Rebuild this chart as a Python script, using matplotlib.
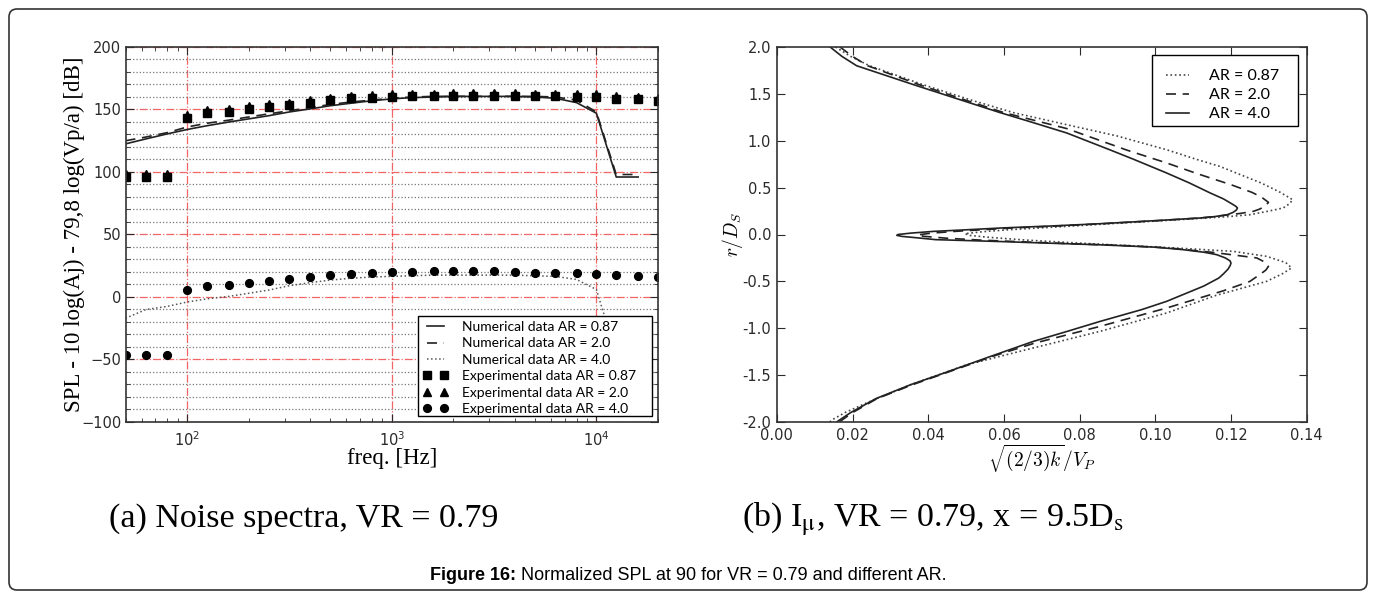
import matplotlib
matplotlib.use('Agg')
import matplotlib.pyplot as plt
from matplotlib.ticker import MultipleLocator, LogLocator, NullFormatter, FormatStrFormatter
from matplotlib.patches import FancyBboxPatch, Rectangle
from matplotlib.transforms import IdentityTransform
from matplotlib.font_manager import FontProperties

# ---------------- data: (a) noise spectra ----------------
freq_exp = [50, 63, 80, 100, 125, 160, 200, 250, 315, 400, 500, 630, 800, 1000,
            1250, 1600, 2000, 2500, 3150, 4000, 5000, 6300, 8000, 10000, 12500, 16000, 20000]
exp_ar087 = [96, 96, 96, 143.5, 147.5, 148, 150.5, 152, 153.5, 155.5, 157.5, 159, 159.5, 160,
             160.5, 160.5, 161, 161, 161, 161, 160.5, 160.5, 160, 160, 158.5, 158, 157]
exp_ar20 = [98, 98, 98, 145.5, 149.5, 150, 152.5, 154, 155.5, 157.5, 159.5, 161, 161.5, 162,
            162.5, 162.5, 163, 163, 163, 163, 162.5, 162.5, 162, 162, 160.5, 160, 159]
exp_ar40 = [-46.5, -46.5, -46.5, 5.5, 8.5, 9.5, 11.5, 13, 14.5, 16, 17.5, 18.5, 19.5, 20,
            20, 20.5, 20.5, 20.5, 20.5, 20, 19.5, 19.5, 19, 18.5, 17.5, 17, 16]

freq_num = [50, 63, 80, 100, 125, 160, 200, 250, 315, 400, 500, 630, 800, 1000,
            1250, 1600, 2000, 2500, 3150, 4000, 5000, 6300, 8000, 10000, 12500, 16000]
num_ar087 = [122.5, 126.5, 130.5, 134, 137, 140, 142.5, 145, 148, 150.5, 153, 155, 157, 158.5,
             159.5, 160, 160.5, 160.5, 160.5, 160.5, 160, 159, 155.5, 147, 96, 96]
num_ar20 = [125, 128, 131.5, 136, 139, 141.5, 144, 146.5, 149, 151.5, 154, 156, 157.5, 159,
            160, 160.5, 160.5, 160.5, 160.5, 160.5, 160.5, 160, 157.5, 148, 98, 98]
num_ar40 = [-17, -10, -7.5, -4, -1.5, 0.5, 3, 5.5, 9, 11.5, 13.5, 15, 16, 16.5,
            17, 17.5, 17.5, 17.5, 17.5, 17.5, 17, 16.5, 14, 6, -46, -46]

# ---------------- data: (b) turbulence intensity profiles ----------------
r_ar40 = [2.0, 1.9, 1.8, 1.6, 1.438, 1.3, 1.2, 1.083, 0.9, 0.8, 0.656, 0.55, 0.443, 0.38,
          0.318, 0.30, 0.283, 0.26, 0.235, 0.211, 0.19, 0.176, 0.15, 0.115, 0.09, 0.069, 0.05,
          0.033, 0.015, 0.0, -0.009, -0.02, -0.035, -0.055, -0.075, -0.09, -0.11, -0.135, -0.162,
          -0.19, -0.215, -0.25, -0.28, -0.304, -0.33, -0.37, -0.42, -0.464, -0.55, -0.713, -0.8,
          -0.927, -1.03, -1.14, -1.3, -1.495, -1.6, -1.75, -1.9, -2.0]
x_ar40 = [0.0141, 0.0172, 0.0211, 0.0360, 0.0484, 0.0590, 0.0672, 0.0766, 0.0882, 0.0944,
          0.1030, 0.1090, 0.1145, 0.1180, 0.1206, 0.1213, 0.1217, 0.1214, 0.1205, 0.1190,
          0.1155, 0.1118, 0.1010, 0.0854, 0.0720, 0.0590, 0.0500, 0.0413, 0.0355, 0.0320,
          0.0317, 0.0330, 0.0370, 0.0420, 0.0590, 0.0700, 0.0854, 0.1000, 0.1074, 0.1130,
          0.1162, 0.1185, 0.1197, 0.1200, 0.1198, 0.1192, 0.1180, 0.1168, 0.1128, 0.1030,
          0.0965, 0.0854, 0.0770, 0.0678, 0.0565, 0.0430, 0.0355, 0.0262, 0.0195, 0.0158]

r_ar20 = [2.0, 1.9, 1.8, 1.6, 1.438, 1.3, 1.13, 0.9, 0.763, 0.65, 0.531, 0.45, 0.40, 0.343,
          0.30, 0.27, 0.247, 0.225, 0.211, 0.19, 0.176, 0.15, 0.115, 0.09, 0.069, 0.05, 0.033,
          0.015, 0.0, -0.01, -0.02, -0.04, -0.06, -0.08, -0.1, -0.12, -0.145, -0.162, -0.19,
          -0.215, -0.25, -0.3, -0.34, -0.38, -0.43, -0.5, -0.6, -0.784, -0.98, -1.16, -1.3,
          -1.5, -1.6, -1.75, -1.9, -2.0]
x_ar20 = [0.0167, 0.0200, 0.0240, 0.0375, 0.0495, 0.0600, 0.0766, 0.0925, 0.1030, 0.1110,
          0.1200, 0.1255, 0.1280, 0.1299, 0.1290, 0.1275, 0.1259, 0.1225, 0.1195, 0.1155,
          0.1118, 0.1015, 0.0860, 0.0735, 0.0620, 0.0540, 0.0470, 0.0410, 0.0380, 0.0372,
          0.0390, 0.0450, 0.0540, 0.0660, 0.0790, 0.0930, 0.1040, 0.1080, 0.1150, 0.1200,
          0.1268, 0.1292, 0.1299, 0.1292, 0.1275, 0.1250, 0.1180, 0.1030, 0.0854, 0.0680,
          0.0570, 0.0430, 0.0360, 0.0265, 0.0200, 0.0165]

r_ar087 = [2.0, 1.9, 1.8, 1.6, 1.438, 1.3, 1.171, 1.05, 0.904, 0.80, 0.727, 0.549, 0.45,
           0.371, 0.33, 0.283, 0.25, 0.211, 0.19, 0.176, 0.15, 0.115, 0.09, 0.069, 0.05, 0.03,
           0.009, -0.01, -0.03, -0.06, -0.09, -0.12, -0.15, -0.18, -0.233, -0.3, -0.357, -0.42,
           -0.5, -0.65, -0.837, -1.033, -1.21, -1.389, -1.5, -1.6, -1.797, -1.9, -1.97, -2.0]
x_ar087 = [0.0155, 0.0195, 0.0245, 0.0385, 0.0510, 0.0625, 0.0766, 0.0900, 0.1030, 0.1110,
           0.1170, 0.1280, 0.1330, 0.1363, 0.1355, 0.1338, 0.1300, 0.1250, 0.1190, 0.1135,
           0.1030, 0.0880, 0.0780, 0.0690, 0.0610, 0.0545, 0.0497, 0.0510, 0.0560, 0.0660,
           0.0790, 0.0940, 0.1080, 0.1206, 0.1294, 0.1345, 0.1360, 0.1335, 0.1294, 0.1160,
           0.1030, 0.0854, 0.0678, 0.0502, 0.0425, 0.0355, 0.0237, 0.0180, 0.0149, 0.0140]

# ---------------- figure ----------------
plt.rcParams['font.family'] = ['DejaVu Sans']
plt.rcParams['mathtext.fontset'] = 'dejavusans'
fig = plt.figure(figsize=(13.76, 5.99), dpi=100)

W, H = 1376.0, 599.0
def axrect(x0, y0, x1, y1):
    return [x0 / W, 1 - y1 / H, (x1 - x0) / W, (y1 - y0) / H]

serif = 'Liberation Serif'
tick_col = '#2a2a2a'

# ---- left panel ----
ax1 = fig.add_axes(axrect(125.5, 47, 658, 422))
ax1.set_xscale('log')
ax1.set_xlim(50, 20000)
ax1.set_ylim(-100, 200)
ax1.yaxis.set_major_locator(MultipleLocator(50))
ax1.yaxis.set_minor_locator(MultipleLocator(10))
ax1.xaxis.set_major_locator(LogLocator(base=10))
ax1.xaxis.set_minor_locator(LogLocator(base=10, subs=range(2, 10)))
ax1.xaxis.set_minor_formatter(NullFormatter())

ax1.grid(which='major', color='#ee3333', linestyle='-.', linewidth=0.9, alpha=0.75)
ax1.grid(which='minor', axis='y', color='#777777', linestyle=':', linewidth=0.9)
ax1.set_axisbelow(True)

ax1.plot(freq_num, num_ar087, '-', color='#222222', lw=1.2, label='Numerical data AR = 0.87')
ax1.plot(freq_num, num_ar20, '--', color='#222222', lw=1.2, dashes=(6, 4), label='Numerical data AR = 2.0')
ax1.plot(freq_num, num_ar40, ':', color='#555555', lw=1.1, label='Numerical data AR = 4.0')
ax1.plot(freq_exp, exp_ar087, 's', color='black', ms=5.6, ls='none', label='Experimental data AR = 0.87')
ax1.plot(freq_exp, exp_ar20, '^', color='black', ms=5.6, ls='none', label='Experimental data AR = 2.0')
ax1.plot(freq_exp, exp_ar40, 'o', color='black', ms=5.6, ls='none', label='Experimental data AR = 4.0')

ax1.tick_params(which='both', direction='in', top=True, right=True, labelsize=10.5, colors=tick_col)
ax1.tick_params(which='major', length=6)
ax1.tick_params(which='minor', length=3)
ax1.tick_params(axis='y', pad=3)
ax1.tick_params(axis='x', pad=6)
ax1.set_xlabel('freq. [Hz]', family=serif, fontsize=16.5, labelpad=-1)
ax1.set_ylabel('SPL - 10 log(Aj) - 79,8 log(Vp/a) [dB]', family=serif, fontsize=16.5, labelpad=-3)
for s in ax1.spines.values():
    s.set_linewidth(1.2)
    s.set_color('#333333')

# legend box (drawn in pixel coordinates) + legend content without its own frame
ax1.add_patch(Rectangle((418, H - 416), 234, 100, transform=IdentityTransform(), facecolor='white',
                        edgecolor='black', lw=1.0, zorder=4.8, clip_on=False))
leg1 = ax1.legend(loc='upper left', bbox_to_anchor=(416 / W, 1 - 314 / H),
                  bbox_transform=fig.transFigure, numpoints=2, handlelength=1.82, handletextpad=1.0,
                  labelspacing=0.32, borderpad=0.0, frameon=False,
                  prop=FontProperties(family='Lato', size=10))
leg1.set_zorder(5)

# ---- right panel ----
ax2 = fig.add_axes(axrect(776.8, 47, 1306.7, 422))
ax2.set_xlim(0, 0.14)
ax2.set_ylim(-2, 2)
ax2.xaxis.set_major_locator(MultipleLocator(0.02))
ax2.yaxis.set_major_locator(MultipleLocator(0.5))
ax2.xaxis.set_major_formatter(FormatStrFormatter('%.2f'))
ax2.yaxis.set_major_formatter(FormatStrFormatter('%.1f'))
ax2.plot(x_ar087, r_ar087, ':', color='#444444', lw=1.2, label='AR = 0.87')
ax2.plot(x_ar20, r_ar20, '--', color='#222222', lw=1.2, dashes=(6, 4), label='AR = 2.0')
ax2.plot(x_ar40, r_ar40, '-', color='#222222', lw=1.2, label='AR = 4.0')
ax2.tick_params(which='both', direction='in', top=True, right=True, labelsize=10.5, colors=tick_col,
                length=6, pad=4)
for s in ax2.spines.values():
    s.set_linewidth(1.2)
    s.set_color('#333333')
ax2.set_xlabel(r'$\sqrt{(2/3)k}/V_P$', fontsize=14, math_fontfamily='cm', labelpad=0)
ax2.set_ylabel(r'$r/D_S$', fontsize=14, math_fontfamily='cm', labelpad=-2)

ax2.add_patch(Rectangle((1152, H - 126), 146, 71, transform=IdentityTransform(), facecolor='white',
                        edgecolor='black', lw=1.0, zorder=4.8, clip_on=False))
leg2 = ax2.legend(loc='upper left', bbox_to_anchor=(1158 / W, 1 - 61 / H),
                  bbox_transform=fig.transFigure, handlelength=1.45, handletextpad=1.25,
                  labelspacing=0.3, borderpad=0.0, frameon=False,
                  prop=FontProperties(family='Lato', size=11.5))
leg2.set_zorder(5)

# ---- captions ----
fig.text(304 / W, 1 - 519 / H, '(a) Noise spectra, VR = 0.79', ha='center', va='center',
         family=serif, fontsize=24.5)
fig.text(933 / W, 1 - 519 / H, r'(b) I$_{\mathrm{μ}}$, VR = 0.79, x = 9.5D$_{\mathrm{s}}$',
         ha='center', va='center', family=serif, fontsize=24.5, math_fontfamily='stix')

renderer = fig.canvas.get_renderer()
t_bold = fig.text(0, 1 - 575 / H, 'Figure 16:', ha='left', va='center', family='Liberation Sans',
                  fontweight='bold', fontsize=13)
t_rest = fig.text(0, 1 - 575 / H, ' Normalized SPL at 90 for VR = 0.79 and different AR.', ha='left',
                  va='center', family='Liberation Sans', fontsize=13)
wb = t_bold.get_window_extent(renderer).width
wr = t_rest.get_window_extent(renderer).width
x0 = (688 - (wb + wr) / 2) / W
t_bold.set_x(x0)
t_rest.set_x(x0 + wb / W)

frame = FancyBboxPatch((9, 9), 1358, 581, boxstyle='round,pad=0,rounding_size=8',
                       transform=IdentityTransform(), fill=False, edgecolor='#333333', lw=1.2)
fig.add_artist(frame)

fig.savefig('out.png', dpi=100)
